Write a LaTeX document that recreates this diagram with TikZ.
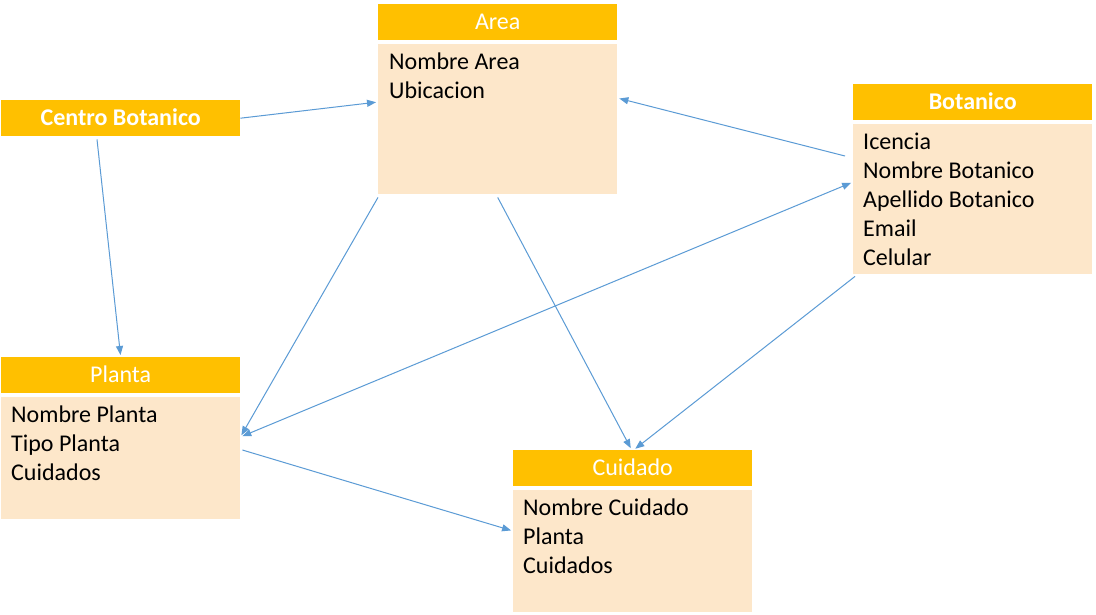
\documentclass[tikz,border=0pt]{standalone}
\usepackage{fontspec}
\setmainfont{Carlito}
\usetikzlibrary{arrows.meta,calc}
\definecolor{hdrc}{HTML}{FFC000}
\definecolor{bodyc}{HTML}{FDE7CA}
\definecolor{linkc}{HTML}{5B9BD5}
\begin{document}
\begin{tikzpicture}[x=1pt,y=-1pt,
  hdr/.style={fill=hdrc, text=white, minimum width=239pt, minimum height=36pt, inner sep=0pt, anchor=north west, font=\fontsize{24}{29}\selectfont, text height=15.5pt, text depth=0pt},
  bodybox/.style={fill=bodyc, minimum width=239pt, inner sep=0pt, anchor=north west},
  fields/.style={anchor=north west, inner sep=0pt, align=left, font=\fontsize{24}{29}\selectfont, text=black},
  link/.style={draw=linkc, line width=1pt, -{Triangle[length=9pt,width=7pt]}, shorten >=2pt},
  tip/.style={{Triangle[length=9pt,width=7pt]}-{Triangle[length=9pt,width=7pt]}, shorten <=2pt}
]
\useasboundingbox (0,0) rectangle (1096,614);
\fill[white] (0,0) rectangle (1096,614);

% Area
\node[hdr] (areaH) at (378,4) {Area};
\node[bodybox, minimum height=150pt] (areaB) at (378,44) {};
\node[fields] (areaT) at ($(areaB.north west)+(11,0)$) {\rule{0pt}{25pt}Nombre Area\\Ubicacion};

% Centro Botanico
\node[hdr, font=\fontsize{24}{29}\selectfont\bfseries] (centro) at (1,100) {Centro Botanico};

% Botanico
\node[hdr, font=\fontsize{24}{29}\selectfont\bfseries] (botH) at (853,84) {Botanico};
\node[bodybox, minimum height=150pt] (botB) at (853,124) {};
\node[fields] (botT) at ($(botB.north west)+(10,0)$) {\rule{0pt}{25pt}Icencia\\Nombre Botanico\\Apellido Botanico\\Email\\Celular};

% Planta
\node[hdr] (plH) at (1,357) {Planta};
\node[bodybox, minimum height=122pt] (plB) at (1,397) {};
\node[fields] (plT) at ($(plB.north west)+(10,0)$) {\rule{0pt}{25pt}Nombre Planta\\Tipo Planta\\Cuidados};

% Cuidado
\node[hdr] (cuH) at (513,450) {Cuidado};
\node[bodybox, minimum height=122pt] (cuB) at (513,490) {};
\node[fields] (cuT) at ($(cuB.north west)+(10,0)$) {\rule{0pt}{25pt}Nombre Cuidado\\Planta\\Cuidados};

% connectors
\draw[link] (centro.east) -- ($(areaB.north west)+(0,58)$);
\draw[link] ($(centro.south west)+(96,3)$) -- (plH.north);
\draw[link] ($(areaB.south west)+(0,3)$) -- ($(plB.north east)+(0,40)$);
\draw[link] ($(areaB.south)+(0,3)$) -- ($(cuH.north)+(-1,0)$);
\draw[link] ($(botB.north west)+(-8,32)$) -- ($(areaB.north east)+(0,54)$);
\draw[link, tip] ($(plB.north east)+(0,40)$) -- ($(botB.north west)+(0,58)$);
\draw[link] ($(plB.north east)+(2,53)$) -- ($(cuB.north west)+(0,41)$);
\draw[link] ($(botB.south west)+(2,2)$) -- ($(cuH.north)+(1,0)$);
\end{tikzpicture}
\end{document}
